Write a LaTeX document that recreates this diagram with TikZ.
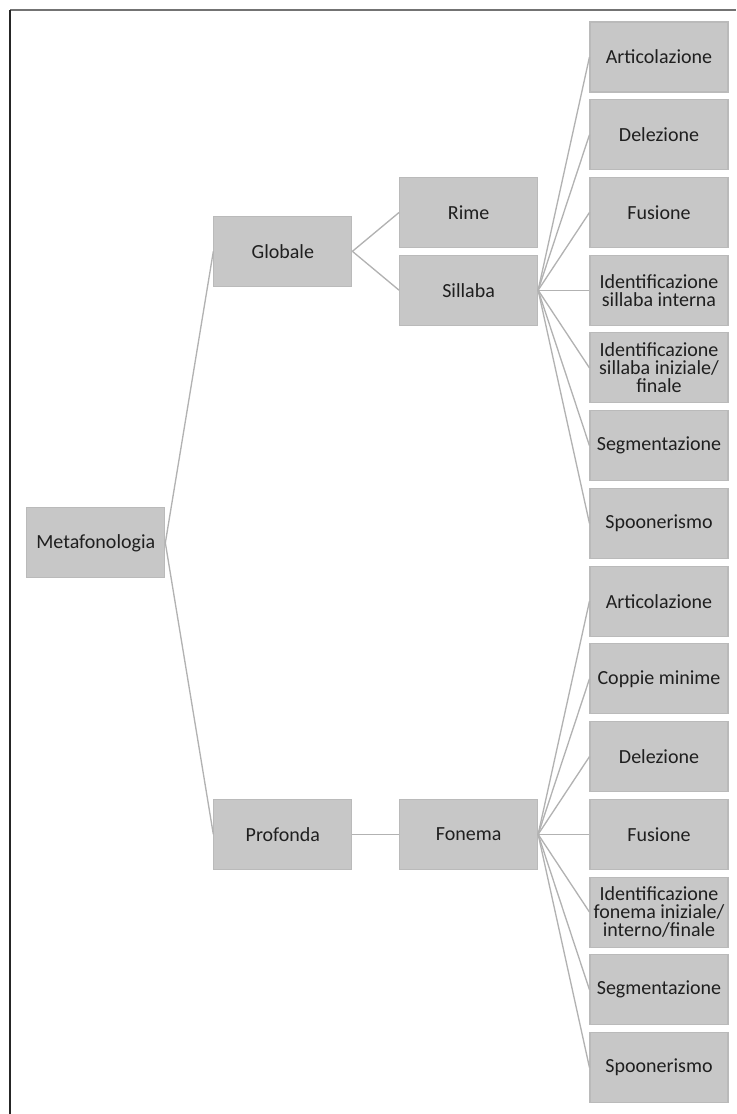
\documentclass[tikz,border=0pt]{standalone}
\usepackage{fontspec}
\setmainfont{Carlito}
\usetikzlibrary{positioning}
\usetikzlibrary{calc}

\begin{document}
\begin{tikzpicture}[
box/.style = {shape = rectangle, draw = black!27, fill = black!22, line width = 0.8pt, text = black!88, minimum width = 103.5pt, minimum height = 52.5pt, inner sep = 1pt, align = center, font = \fontsize{15}{13.5}\selectfont},
link/.style = {draw = black!30, line width = 1pt},
node distance = 5pt,
]
\useasboundingbox (0,0) rectangle (552pt,-835.5pt);
\draw[black!55, line width = 0.9pt] (7.5pt,-7.5pt) -- (552pt,-7.5pt);
\draw[black!85, line width = 1.1pt] (7.5pt,-7.5pt) -- (7.5pt,-835.5pt);

% sillaba column
\node[box] (S1) at (494.25pt,-42.75pt) {Articolazione};
\node[box] (S2) [below = of S1] {Delezione};
\node[box] (S3) [below = of S2] {Fusione};
\node[box] (S4) [below = of S3] {Identificazione\\sillaba interna};
\node[box] (S5) [below = of S4] {Identificazione\\sillaba iniziale/\\finale};
\node[box] (S6) [below = of S5] {Segmentazione};
\node[box] (S7) [below = of S6] {Spoonerismo};

% fonema column
\node[box] (F1) [below = of S7] {Articolazione};
\node[box] (F2) [below = of F1] {Coppie minime};
\node[box] (F3) [below = of F2] {Delezione};
\node[box] (F4) [below = of F3] {Fusione};
\node[box] (F5) [below = of F4] {Identificazione\\fonema iniziale/\\interno/finale};
\node[box] (F6) [below = of F5] {Segmentazione};
\node[box] (F7) [below = of F6] {Spoonerismo};

\node[box] (R) [left = 38.5pt of S3] {Rime};
\node[box] (Si) [left = 38.5pt of S4] {Sillaba};
\node[box] (Fo) [left = 38.5pt of F4] {Fonema};
\node[box] (P) [left = 35pt of Fo] {Profonda};

\coordinate (Gm) at ($(R)!0.5!(Si)$);
\node[box] (G) at (Gm -| P) {Globale};

\coordinate (Mm) at ($(G.west)!0.5!(P.west)$);
\node[box] (M) [left = 36pt of Mm] {Metafonologia};

\path[link] (M.east) edge (G.west) edge (P.west);
\path[link] (G.east) edge (R.west) edge (Si.west);
\path[link] (P.east) edge (Fo.west);

\path[link] (Si.east) edge (S1.west) edge (S2.west) edge (S3.west) edge (S4.west) edge (S5.west) edge (S6.west) edge (S7.west);
\path[link] (Fo.east) edge (F1.west) edge (F2.west) edge (F3.west) edge (F4.west) edge (F5.west) edge (F6.west) edge (F7.west);
\end{tikzpicture}
\end{document}
